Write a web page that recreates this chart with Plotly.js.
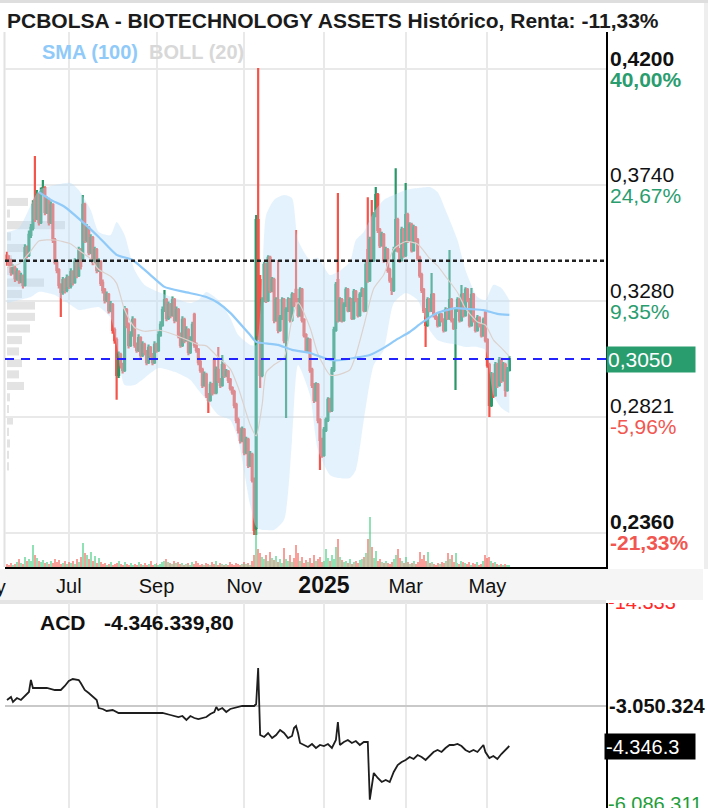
<!DOCTYPE html>
<html><head><meta charset="utf-8">
<script src="https://cdn.plot.ly/plotly-3.0.1.min.js"></script>
<style>html,body{margin:0;padding:0;background:#fff;}#chart{width:708px;height:808px;}</style>
</head><body><div id="chart"></div>
<script>
// ---------------- DATA ----------------
const titleText = 'PCBOLSA - BIOTECHNOLOGY ASSETS Histórico, Renta: -11,33%';
const firstDay = '2024-05-17';
const lastDay = '2025-05-19';
const holidays = ['2024-08-15','2024-11-01','2024-12-06','2024-12-25','2025-01-01','2025-01-06','2025-04-18','2025-04-21','2025-05-01'];

const openP = [
0.3460,0.3440,0.3435,0.3395,0.3411,0.3371,0.3395,0.3363,0.3379,0.3344,
0.3490,0.3463,0.3542,0.3570,0.3681,0.3609,0.3700,0.3593,0.3712,0.3728,
0.3633,0.3681,0.3593,0.3661,0.3522,0.3435,0.3403,0.3344,0.3316,0.3363,
0.3324,0.3371,0.3340,0.3395,0.3355,0.3435,0.3383,0.3482,0.3443,0.3661,
0.3522,0.3570,0.3474,0.3530,0.3435,0.3482,0.3403,0.3435,0.3352,0.3324,
0.3284,0.3304,0.3244,0.3264,0.3165,0.3125,0.2987,0.3066,0.3026,0.3007,
0.3244,0.3185,0.3106,0.3145,0.3205,0.3106,0.3086,0.3133,0.3066,0.3106,
0.3078,0.3038,0.3094,0.3066,0.3038,0.3106,0.3086,0.3145,0.3185,0.3244,
0.3284,0.3213,0.3264,0.3225,0.3284,0.3205,0.3244,0.3145,0.3106,0.3205,
0.3125,0.3165,0.3078,0.3125,0.3225,0.3106,0.3086,0.3038,0.3007,0.2947,
0.2987,0.2907,0.2888,0.2947,0.3046,0.2919,0.3007,0.2967,0.2947,0.3026,
0.2987,0.2999,0.2967,0.2935,0.2919,0.2868,0.2808,0.2769,0.2729,0.2769,
0.2681,0.2729,0.2630,0.2670,0.2570,0.2380,0.3601,0.3363,0.2987,0.3284,
0.3423,0.3284,0.3451,0.3324,0.3363,0.3205,0.3284,0.3165,0.3213,0.3284,
0.3125,0.3244,0.3284,0.3205,0.3304,0.3324,0.3284,0.3225,0.3324,0.3205,
0.3145,0.3086,0.3125,0.3007,0.2947,0.2888,0.2947,0.2808,0.2729,0.2670,
0.2769,0.2808,0.2888,0.2848,0.3007,0.3165,0.3363,0.3205,0.3284,0.3205,
0.3264,0.3324,0.3244,0.3284,0.3213,0.3316,0.3284,0.3225,0.3304,0.3324,
0.3244,0.3482,0.3363,0.3522,0.3443,0.3621,0.3700,0.3562,0.3502,0.3542,
0.3443,0.3482,0.3403,0.3363,0.3324,0.3482,0.3601,0.3482,0.3443,0.3562,
0.3463,0.3621,0.3522,0.3581,0.3482,0.3570,0.3522,0.3451,0.3383,0.3324,
0.3244,0.3185,0.3284,0.3244,0.3304,0.3225,0.3213,0.3185,0.3225,0.3205,
0.3165,0.3244,0.3213,0.3284,0.3205,0.3173,0.3244,0.3284,0.3205,0.3304,
0.3225,0.3324,0.3284,0.3185,0.3304,0.3205,0.3165,0.3213,0.3185,0.3145,
0.3233,0.3125,0.3026,0.2868,0.2987,0.2907,0.3026,0.2947,0.3046,0.2967,
0.3026,0.2927,0.3007];

const highP = [
0.3475,0.3462,0.3448,0.3425,0.3420,0.3410,0.3402,0.3392,0.3385,0.3505,
0.3500,0.3560,0.3585,0.3680,0.3855,0.3720,0.3710,0.3730,0.3760,0.3735,
0.3695,0.3690,0.3675,0.3668,0.3530,0.3445,0.3410,0.3350,0.3375,0.3370,
0.3385,0.3380,0.3410,0.3402,0.3450,0.3442,0.3495,0.3490,0.3700,0.3670,
0.3585,0.3578,0.3545,0.3538,0.3495,0.3490,0.3450,0.3442,0.3365,0.3332,
0.3318,0.3312,0.3280,0.3272,0.3175,0.3135,0.3080,0.3075,0.3035,0.3260,
0.3252,0.3195,0.3160,0.3220,0.3212,0.3115,0.3148,0.3140,0.3120,0.3114,
0.3086,0.3108,0.3102,0.3074,0.3120,0.3114,0.3160,0.3200,0.3258,0.3324,
0.3292,0.3278,0.3272,0.3298,0.3292,0.3258,0.3252,0.3155,0.3220,0.3214,
0.3180,0.3172,0.3140,0.3198,0.3233,0.3115,0.3094,0.3046,0.3015,0.3000,
0.2995,0.2915,0.2960,0.2955,0.3055,0.3020,0.3098,0.2975,0.3066,0.3035,
0.3010,0.3006,0.2975,0.2942,0.2928,0.2876,0.2818,0.2778,0.2782,0.2776,
0.2742,0.2738,0.2685,0.2678,0.2580,0.3621,0.4204,0.3383,0.3295,0.3435,
0.3432,0.3462,0.3460,0.3375,0.3372,0.3295,0.3443,0.3225,0.3295,0.3292,
0.3255,0.3295,0.3292,0.3315,0.3312,0.3562,0.3292,0.3335,0.3332,0.3212,
0.3152,0.3135,0.3132,0.3015,0.2955,0.2958,0.2955,0.2815,0.2738,0.2780,
0.2818,0.2898,0.2896,0.3018,0.3178,0.3355,0.3708,0.3295,0.3292,0.3275,
0.3335,0.3332,0.3295,0.3292,0.3328,0.3324,0.3292,0.3315,0.3335,0.3332,
0.3435,0.3692,0.3535,0.3681,0.3632,0.3732,0.3708,0.3570,0.3555,0.3550,
0.3495,0.3490,0.3412,0.3372,0.3495,0.3807,0.3610,0.3490,0.3575,0.3570,
0.3748,0.3630,0.3592,0.3590,0.3582,0.3578,0.3530,0.3460,0.3392,0.3332,
0.3252,0.3295,0.3292,0.3391,0.3312,0.3232,0.3220,0.3235,0.3232,0.3212,
0.3255,0.3252,0.3482,0.3292,0.3212,0.3255,0.3295,0.3292,0.3344,0.3312,
0.3335,0.3332,0.3292,0.3332,0.3312,0.3212,0.3225,0.3220,0.3192,0.3215,
0.3240,0.3132,0.3035,0.2998,0.2995,0.3038,0.3035,0.3058,0.3055,0.3038,
0.3035,0.3018,0.3062];

const lowP = [
0.3420,0.3418,0.3380,0.3385,0.3355,0.3360,0.3348,0.3350,0.3330,0.3338,
0.3450,0.3455,0.3530,0.3560,0.3593,0.3600,0.3580,0.3585,0.3700,0.3620,
0.3625,0.3580,0.3585,0.3510,0.3425,0.3390,0.3330,0.3217,0.3305,0.3310,
0.3315,0.3328,0.3330,0.3342,0.3348,0.3370,0.3375,0.3405,0.3435,0.3510,
0.3512,0.3462,0.3465,0.3422,0.3428,0.3390,0.3395,0.3340,0.3310,0.3270,
0.3275,0.3230,0.3235,0.3150,0.3110,0.2888,0.2975,0.3012,0.2992,0.2998,
0.3172,0.3092,0.3098,0.3138,0.3095,0.3075,0.3078,0.3055,0.3058,0.3065,
0.3025,0.3030,0.3055,0.3025,0.3030,0.3075,0.3078,0.3138,0.3178,0.3236,
0.3200,0.3205,0.3212,0.3218,0.3192,0.3198,0.3132,0.3095,0.3098,0.3112,
0.3118,0.3065,0.3070,0.3118,0.3095,0.3075,0.3025,0.2995,0.2935,0.2940,
0.2895,0.2836,0.2880,0.2905,0.2910,0.2910,0.2955,0.2935,0.2940,0.2975,
0.2978,0.2955,0.2925,0.2908,0.2855,0.2795,0.2755,0.2715,0.2720,0.2668,
0.2672,0.2618,0.2622,0.2560,0.2352,0.2352,0.3125,0.2935,0.2978,0.3275,
0.3272,0.3276,0.3312,0.3315,0.3192,0.3198,0.3152,0.3158,0.3205,0.3112,
0.2816,0.3236,0.3195,0.3198,0.3255,0.3275,0.3215,0.3218,0.3195,0.3135,
0.3075,0.3078,0.2995,0.2935,0.2875,0.2880,0.2795,0.2610,0.2658,0.2662,
0.2760,0.2800,0.2838,0.2840,0.2998,0.3158,0.3195,0.3198,0.3195,0.3198,
0.3256,0.3235,0.3236,0.3205,0.3206,0.3275,0.3215,0.3218,0.3296,0.3235,
0.3236,0.3352,0.3355,0.3435,0.3435,0.3612,0.3550,0.3490,0.3495,0.3432,
0.3436,0.3392,0.3352,0.3304,0.3316,0.3475,0.3472,0.3432,0.3436,0.3452,
0.3455,0.3510,0.3515,0.3472,0.3475,0.3512,0.3440,0.3372,0.3312,0.3232,
0.3098,0.3178,0.3235,0.3236,0.3215,0.3205,0.3175,0.3178,0.3195,0.3155,
0.3158,0.3205,0.3205,0.3195,0.3165,0.2927,0.3236,0.3195,0.3198,0.3215,
0.3218,0.3275,0.3175,0.3178,0.3195,0.3155,0.3158,0.3175,0.3135,0.3138,
0.3115,0.3015,0.2820,0.2860,0.2895,0.2900,0.2935,0.2940,0.2955,0.2960,
0.2900,0.2920,0.3000];

const closeP = [
0.3440,0.3435,0.3395,0.3411,0.3371,0.3395,0.3363,0.3379,0.3344,0.3490,
0.3463,0.3542,0.3570,0.3661,0.3609,0.3700,0.3593,0.3712,0.3728,0.3633,
0.3681,0.3593,0.3661,0.3522,0.3435,0.3403,0.3344,0.3316,0.3363,0.3324,
0.3371,0.3340,0.3395,0.3355,0.3435,0.3383,0.3482,0.3419,0.3661,0.3522,
0.3570,0.3474,0.3530,0.3435,0.3482,0.3403,0.3435,0.3352,0.3324,0.3284,
0.3304,0.3244,0.3264,0.3165,0.3125,0.2987,0.3066,0.3026,0.3007,0.3244,
0.3185,0.3106,0.3145,0.3205,0.3106,0.3086,0.3133,0.3066,0.3106,0.3078,
0.3038,0.3094,0.3066,0.3038,0.3106,0.3086,0.3145,0.3185,0.3244,0.3284,
0.3213,0.3264,0.3225,0.3284,0.3205,0.3244,0.3145,0.3106,0.3205,0.3125,
0.3165,0.3078,0.3125,0.3185,0.3106,0.3086,0.3038,0.3007,0.2947,0.2987,
0.2907,0.2888,0.2947,0.2919,0.2919,0.3007,0.2967,0.2947,0.3026,0.2987,
0.2999,0.2967,0.2935,0.2919,0.2868,0.2808,0.2769,0.2729,0.2769,0.2681,
0.2729,0.2630,0.2670,0.2570,0.2372,0.3601,0.3145,0.2987,0.3284,0.3423,
0.3284,0.3451,0.3324,0.3363,0.3205,0.3284,0.3165,0.3213,0.3284,0.3125,
0.3244,0.3284,0.3205,0.3304,0.3264,0.3284,0.3225,0.3324,0.3205,0.3145,
0.3086,0.3125,0.3007,0.2947,0.2888,0.2947,0.2808,0.2729,0.2670,0.2769,
0.2808,0.2888,0.2848,0.3007,0.3165,0.3344,0.3205,0.3284,0.3205,0.3264,
0.3324,0.3244,0.3284,0.3213,0.3316,0.3284,0.3225,0.3304,0.3324,0.3244,
0.3423,0.3363,0.3522,0.3443,0.3621,0.3700,0.3562,0.3502,0.3542,0.3443,
0.3482,0.3403,0.3363,0.3324,0.3482,0.3601,0.3482,0.3443,0.3562,0.3463,
0.3621,0.3522,0.3581,0.3482,0.3570,0.3522,0.3451,0.3383,0.3324,0.3244,
0.3185,0.3284,0.3244,0.3304,0.3225,0.3213,0.3185,0.3225,0.3205,0.3165,
0.3244,0.3213,0.3284,0.3205,0.3173,0.3244,0.3284,0.3205,0.3304,0.3225,
0.3324,0.3284,0.3185,0.3304,0.3205,0.3165,0.3213,0.3185,0.3145,0.3205,
0.3125,0.3026,0.2868,0.2987,0.2907,0.3026,0.2947,0.3046,0.2967,0.3026,
0.2927,0.3007,0.3050];

const volume = [
3,2,4,2,3,5,8,4,3,10, 6,8,6,22,12,9,6,5,7,4, 5,3,6,4,8,5,7,3,4,6,
3,5,4,6,3,8,5,10,24,14, 12,8,15,6,11,4,9,5,3,4, 2,3,5,2,3,4,6,3,2,5,
3,2,4,2,3,2,5,3,2,4, 2,3,6,2,3,4,2,3,5,6, 8,5,4,3,6,4,5,3,4,2,
3,4,2,5,3,6,4,2,3,2, 4,3,2,5,3,6,2,4,3,2, 3,2,5,3,2,4,3,2,3,5,
3,4,2,6,12,37,18,14,10,8, 12,6,15,9,7,11,5,8,4,19, 8,6,12,5,9,22,14,6,10,4,
7,5,9,4,12,6,8,10,5,6, 18,9,6,12,8,20,28,10,7,5, 6,4,8,3,5,6,4,7,8,10,
14,28,50,20,9,16,6,8,5,4, 6,4,3,5,8,12,18,9,6,4, 10,5,3,4,6,3,5,15,8,12,
6,15,4,5,3,2,4,3,5,4, 6,14,8,12,5,14,4,3,6,5, 4,3,5,2,4,3,5,2,3,6,
12,9,10,6,4,5,3,2,3,2, 3,2,2];

// SMA (100), sampled by trading-day index
const smaIdx = [16,22,29,38,46,55,63,72,79,89,100,106,112,122,125,132,136,143,152,162,168,174,182,189,195,202,208,216,225,232,239,246,252];
const smaVal = [0.3712,0.3681,0.3653,0.3593,0.3534,0.3463,0.3443,0.3383,0.3336,0.3316,0.3296,0.3272,0.3233,0.3145,0.3118,0.3110,0.3106,0.3086,0.3074,0.3046,0.3046,0.3054,0.3066,0.3094,0.3125,0.3157,0.3193,0.3233,0.3252,0.3248,0.3244,0.3229,0.3225];

// BOLL (20), sampled by trading-day index
const bandIdx = [0,6,12,16,24,32,36,42,46,52,55,59,64,69,76,84,92,96,100,106,112,116,122,125,128,130,134,139,143,146,152,156,162,166,172,175,179,184,189,194,200,206,212,216,220,226,230,236,240,244,248,252];
const bollUpper = [0.3554,0.3570,0.3661,0.3720,0.3740,0.3748,0.3720,0.3641,0.3554,0.3542,0.3593,0.3542,0.3403,0.3344,0.3316,0.3292,0.3272,0.3284,0.3316,0.3284,0.3213,0.3145,0.3106,0.3106,0.3363,0.3621,0.3681,0.3700,0.3688,0.3522,0.3443,0.3451,0.3383,0.3395,0.3435,0.3522,0.3554,0.3633,0.3681,0.3700,0.3720,0.3728,0.3732,0.3712,0.3641,0.3522,0.3403,0.3296,0.3284,0.3344,0.3332,0.3284];
const bollLower = [0.3272,0.3284,0.3296,0.3316,0.3304,0.3264,0.3244,0.3252,0.3256,0.3213,0.3106,0.2947,0.2947,0.2975,0.3014,0.2999,0.2967,0.2927,0.2888,0.2828,0.2808,0.2729,0.2471,0.2384,0.2372,0.2372,0.2372,0.2412,0.2729,0.3026,0.2907,0.2689,0.2590,0.2578,0.2578,0.2610,0.2808,0.3026,0.3086,0.3272,0.3312,0.3284,0.3165,0.3125,0.3114,0.3106,0.3098,0.3098,0.3086,0.2907,0.2856,0.2836];
const bollMid = [0.3413,0.3427,0.3479,0.3518,0.3522,0.3506,0.3482,0.3447,0.3405,0.3378,0.3350,0.3245,0.3175,0.3160,0.3165,0.3146,0.3120,0.3106,0.3102,0.3056,0.3011,0.2937,0.2789,0.2745,0.2868,0.2997,0.3027,0.3056,0.3209,0.3274,0.3175,0.3070,0.2987,0.2987,0.3007,0.3066,0.3181,0.3330,0.3384,0.3486,0.3516,0.3506,0.3449,0.3419,0.3378,0.3314,0.3251,0.3197,0.3185,0.3126,0.3094,0.3060];

// Volume profile (price level -> relative volume)
const profPrice = [0.3673,0.3627,0.3581,0.3536,0.3490,0.3445,0.3399,0.3353,0.3308,0.3262,0.3217,0.3171,0.3125,0.3080,0.3034,0.2989,0.2943,0.2898,0.2852,0.2806,0.2761,0.2715,0.2670,0.2624];
const profVol = [21,3,58,4,17,5,4,37,15,28,28,23,15,12,15,12,17,3,2,6,2,3,2,2];

// ACD, sampled by trading-day index
const acdIdx = [0,2,3,5,7,9,11,12,13,16,20,24,27,29,31,33,36,37,39,41,43,45,46,48,50,53,56,60,66,72,78,82,86,88,90,92,94,96,98,100,102,104,105,106,108,110,112,114,116,118,120,122,124,125,126,127,129,131,133,135,137,139,141,143,144,145,146,147,149,151,153,155,157,159,161,163,165,166,167,169,171,173,175,177,179,181,182,183,184,186,188,190,192,194,196,198,200,202,204,206,208,210,212,214,216,218,220,222,224,226,228,230,232,234,236,238,239,240,242,244,246,248,250,252];
const acdVal = [-2855900,-2758700,-2920700,-2791100,-2855900,-2726300,-2596700,-2207900,-2467100,-2467100,
-2467100,-2531900,-2531900,-2402300,-2240300,-2175500,-2207900,-2305100,-2531900,-2629100,
-2758700,-2855900,-3115100,-3147500,-3212300,-3179900,-3277100,-3277100,-3277100,-3277100,
-3277100,-3341900,-3406700,-3374300,-3503900,-3374300,-3439100,-3471500,-3439100,-3406700,
-3309500,-3244700,-3082700,-3179900,-3115100,-3244700,-3147500,-3115100,-3082700,-3050300,
-3050300,-3050300,-3050300,-2985500,-1819100,-3989900,-4054700,-3925100,-4087100,-3989900,
-3827900,-3925100,-4087100,-4022300,-3763100,-3698300,-3925100,-4249100,-4313900,-4378700,
-4281500,-4411100,-4313900,-4346300,-4281500,-4411100,-4151900,-3568700,-4313900,-4216700,
-4151900,-4249100,-4184300,-4313900,-4216700,-4216700,-6086311,-5609900,-5221100,-5383100,
-5512700,-5447900,-5512700,-5188700,-4961900,-4864700,-4799900,-4702700,-4767500,-4637900,
-4702700,-4799900,-4670300,-4540700,-4475900,-4540700,-4411100,-4313900,-4313900,-4281500,
-4346300,-4475900,-4540700,-4475900,-4540700,-4411100,-4313900,-4540700,-4735100,-4670300,
-4767500,-4605500,-4475900,-4346340];
const acdLegend = '-4.346.339,80';
const acdRef = -3050324;
const acdRefText = '-3.050.324';
const acdLastText = '-4.346.3';
const acdTopText = '-14.333';
const acdBottomText = '-6.086.311';

// Axis ticks / labels
const priceTicks = [0.42, 0.374, 0.328, 0.2821, 0.236];
const priceText = ['0,4200','0,3740','0,3280','0,2821','0,2360'];
const pctText = ['40,00%','24,67%','9,35%','-5,96%','-21,33%'];
const monthTicks = ['2024-07-01','2024-09-02','2024-11-04','2025-01-02','2025-03-03','2025-05-02'];
const monthText = ['Jul','Sep','Nov','<b><span style="font-size:23px">2025</span></b>','Mar','May'];

// ---------------- BUILD ----------------
function tradingDays(s, e, hol) {
  const out = [];
  const d = new Date(s + 'T00:00:00Z');
  const end = new Date(e + 'T00:00:00Z');
  while (d <= end) {
    const w = d.getUTCDay();
    const iso = d.toISOString().slice(0, 10);
    if (w !== 0 && w !== 6 && hol.indexOf(iso) < 0) out.push(iso);
    d.setUTCDate(d.getUTCDate() + 1);
  }
  return out;
}
const dates = tradingDays(firstDay, lastDay, holidays);
const n = Math.min(dates.length, closeP.length);
const D = dates.slice(0, n);

const W = 708, H = 808;
const px = v => v / W;
const py = v => 1 - v / H;
const plotL = 5, plotR = 606, plotT = 32, plotB = 567, acdT = 603;
const xDom = [px(plotL), px(plotR)];
const FONT = 'Liberation Sans, Arial, Helvetica, sans-serif';
const UP = '#279867', DN = '#f5544a';
const GREEN_TXT = '#2a9d6f', RED_TXT = '#f25650';
const rbreaks = [{bounds: ['sat', 'mon']}, {values: holidays}];

const traces = [];
// Bollinger band
traces.push({type:'scatter', mode:'lines', x: bandIdx.map(i => D[i]), y: bollUpper,
  line:{width:0, shape:'spline', smoothing:0.6, color:'rgba(0,0,0,0)'}, hoverinfo:'skip', xaxis:'x', yaxis:'y'});
traces.push({type:'scatter', mode:'lines', x: bandIdx.map(i => D[i]), y: bollLower,
  line:{width:0, shape:'spline', smoothing:0.6, color:'rgba(0,0,0,0)'}, fill:'tonexty',
  fillcolor:'rgba(187,222,251,0.40)', hoverinfo:'skip', xaxis:'x', yaxis:'y'});
traces.push({type:'scatter', mode:'lines', x: bandIdx.map(i => D[i]), y: bollMid,
  line:{width:1.2, color:'#dcd2cd', shape:'spline', smoothing:0.6}, hoverinfo:'skip', xaxis:'x', yaxis:'y'});
// Candles
traces.push({type:'candlestick', x: D, open: openP.slice(0,n), high: highP.slice(0,n), low: lowP.slice(0,n), close: closeP.slice(0,n),
  increasing:{line:{color:UP, width:2.2}, fillcolor:UP}, decreasing:{line:{color:DN, width:2.2}, fillcolor:DN},
  whiskerwidth:0, hoverinfo:'skip', xaxis:'x', yaxis:'y'});
// SMA 100
traces.push({type:'scatter', mode:'lines', x: smaIdx.map(i => D[i]), y: smaVal,
  line:{width:2.2, color:'#90caf9', shape:'spline', smoothing:0.5}, hoverinfo:'skip', xaxis:'x', yaxis:'y'});
// Volume
const volColors = D.map((d, i) => closeP[i] >= openP[i] ? 'rgba(70,205,130,0.6)' : 'rgba(245,95,85,0.6)');
traces.push({type:'bar', x: D, y: volume.slice(0,n), marker:{color: volColors, line:{width:0}},
  hoverinfo:'skip', xaxis:'x', yaxis:'y3'});
// ACD
traces.push({type:'scatter', mode:'lines', x: acdIdx.map(i => D[i]), y: acdVal,
  line:{width:1.8, color:'#1e1e1e'}, hoverinfo:'skip', xaxis:'x2', yaxis:'y2'});
// clipped ACD extreme labels (partly hidden at the panel edges, as in the source)
traces.push({type:'scatter', mode:'text', x:[0.02, 0.02], y:[204, 2], text:[acdTopText, acdBottomText],
  textposition:'middle right', textfont:{size:20, family:FONT, color:['#ff2a2a', '#1f9e3a']},
  cliponaxis:true, hoverinfo:'skip', xaxis:'x4', yaxis:'y4'});

const shapes = [];
// label band + frame
shapes.push({type:'rect', xref:'paper', yref:'paper', x0:0, x1:px(703), y0:py(600), y1:py(569), fillcolor:'#f5f5f5', line:{width:0}, layer:'below'});
shapes.push({type:'rect', xref:'paper', yref:'paper', x0:0, x1:px(606), y0:py(604), y1:py(600), fillcolor:'#e4e4e4', line:{width:0}, layer:'below'});
shapes.push({type:'rect', xref:'paper', yref:'paper', x0:0, x1:1, y0:py(3), y1:1, fillcolor:'#dedede', line:{width:0}, layer:'below'});
shapes.push({type:'rect', xref:'paper', yref:'paper', x0:px(3.5), x1:px(5.5), y0:py(567), y1:py(32), fillcolor:'#e2e2e2', line:{width:0}, layer:'below'});
shapes.push({type:'rect', xref:'paper', yref:'paper', x0:px(704), x1:1, y0:py(569), y1:py(3), fillcolor:'#eeeeee', line:{width:0}, layer:'below'});
// volume profile
const plotW = plotR - plotL;
profPrice.forEach((p, i) => {
  shapes.push({type:'rect', xref:'x domain', yref:'y', x0: 2 / plotW, x1: (2 + profVol[i]) / plotW,
    y0: p - 0.0016, y1: p + 0.0016, fillcolor:'#e3e3e3', line:{width:0}, layer:'below'});
});
// reference lines: starting price (dotted) and last price (dashed)
shapes.push({type:'line', xref:'x domain', yref:'y', x0:0, x1:1, y0:closeP[0], y1:closeP[0],
  line:{color:'#222', width:2.5, dash:'4px,3px'}, layer:'above'});
shapes.push({type:'line', xref:'x domain', yref:'y', x0:0, x1:1, y0:closeP[n-1], y1:closeP[n-1],
  line:{color:'#2323ff', width:2, dash:'9px,7px'}, layer:'above'});

const fmt4 = v => v.toFixed(4).replace('.', ',');
const ann = [];
ann.push({xref:'paper', yref:'paper', x:px(5), y:py(20), xanchor:'left', yanchor:'middle', showarrow:false,
  text:'<b>' + titleText + '</b>', font:{size:21, color:'#1b1b1b', family:FONT}});
ann.push({xref:'paper', yref:'paper', x:px(40), y:py(52), xanchor:'left', yanchor:'middle', showarrow:false,
  text:'<b>SMA (100)</b>', font:{size:20, color:'#90caf9', family:FONT}});
ann.push({xref:'paper', yref:'paper', x:px(147), y:py(52), xanchor:'left', yanchor:'middle', showarrow:false,
  text:'<b>BOLL (20)</b>', font:{size:20, color:'#d8d8d8', family:FONT}});
priceTicks.forEach((t, i) => {
  const bold = (i === 0 || i === priceTicks.length - 1);
  const b = s => bold ? '<b>' + s + '</b>' : s;
  ann.push({xref:'paper', yref:'y', x:px(608), y:t, yshift:11, xanchor:'left', yanchor:'middle', showarrow:false,
    text:b(priceText[i]), font:{size:21, color:'#111', family:FONT}});
  ann.push({xref:'paper', yref:'y', x:px(608), y:t, yshift:-10, xanchor:'left', yanchor:'middle', showarrow:false,
    text:b(pctText[i]), font:{size:21, color: pctText[i].charAt(0) === '-' ? RED_TXT : GREEN_TXT, family:FONT}});
});
ann.push({xref:'paper', yref:'y', x:px(606), y:closeP[n-1], xanchor:'left', yanchor:'middle', showarrow:false,
  text:fmt4(closeP[n-1]), bgcolor:'#2a9d6f', width:86, height:23, align:'left', borderpad:1,
  font:{size:21, color:'#fff', family:FONT}});
// partly visible tick label of May 2024 at the left edge, as in the source
ann.push({xref:'paper', yref:'paper', x:px(8), y:py(587), xanchor:'right', yanchor:'middle', showarrow:false,
  text:'May', font:{size:20, color:'#111', family:FONT}});
// ACD texts
ann.push({xref:'paper', yref:'paper', x:px(38), y:py(622), xanchor:'left', yanchor:'middle', showarrow:false,
  text:'<b>ACD</b>', font:{size:21, color:'#111', family:FONT}});
ann.push({xref:'paper', yref:'paper', x:px(102), y:py(622), xanchor:'left', yanchor:'middle', showarrow:false,
  text:'<b>' + acdLegend + '</b>', font:{size:21, color:'#111', family:FONT}});
ann.push({xref:'paper', yref:'y2', x:px(607), y:acdRef, xanchor:'left', yanchor:'middle', showarrow:false,
  text:'<b>' + acdRefText + '</b>', font:{size:20, color:'#111', family:FONT}});
ann.push({xref:'paper', yref:'y2', x:px(604), y:acdVal[acdVal.length-1], xanchor:'left', yanchor:'middle', showarrow:false,
  text:acdLastText, bgcolor:'#000', width:88, height:23, align:'left', borderpad:1,
  font:{size:20, color:'#fff', family:FONT}});

const layout = {
  width:W, height:H, margin:{l:0, r:0, t:0, b:0, pad:0},
  paper_bgcolor:'#ffffff', plot_bgcolor:'rgba(0,0,0,0)', showlegend:false, hovermode:false,
  font:{family:FONT, color:'#111'}, bargap:0,
  xaxis:{domain:xDom, anchor:'y', type:'date', range:['2024-05-16', '2025-07-24 12:00'], rangebreaks:rbreaks,
    rangeslider:{visible:false}, tickmode:'array', tickvals:monthTicks, ticktext:monthText,
    showgrid:true, gridcolor:'#e9e9e9', gridwidth:2, showline:true, linecolor:'#000', linewidth:2,
    ticks:'', tickfont:{size:20, color:'#111', family:FONT}, ticklabelstandoff:0, zeroline:false},
  yaxis:{domain:[py(plotB), py(plotT)], anchor:'x', side:'right', range:[0.2225, 0.4347],
    tickmode:'array', tickvals:priceTicks, showticklabels:false, showgrid:true, gridcolor:'#e9e9e9', gridwidth:2,
    showline:true, linecolor:'#000', linewidth:2, zeroline:false, ticks:''},
  yaxis3:{overlaying:'y', anchor:'x', range:[0, plotB - plotT], visible:false, showgrid:false, zeroline:false},
  xaxis2:{domain:xDom, anchor:'y2', type:'date', matches:'x', rangebreaks:rbreaks, tickmode:'array', tickvals:monthTicks,
    showticklabels:false, showgrid:true, gridcolor:'#e9e9e9', gridwidth:2, showline:false, ticks:'', zeroline:false},
  yaxis2:{domain:[0, py(acdT)], anchor:'x2', side:'right', range:[-6355000, 287000], tickmode:'array', tickvals:[acdRef],
    showticklabels:false, showgrid:true, gridcolor:'#c9c9c9', gridwidth:2, showline:true, linecolor:'#000', linewidth:2,
    zeroline:false, ticks:''},
  xaxis4:{domain:[px(plotR), 1], anchor:'y4', range:[0, 1], visible:false},
  yaxis4:{domain:[0, py(acdT)], anchor:'x4', range:[0, H - acdT], visible:false},
  shapes:shapes, annotations:ann
};

Plotly.newPlot('chart', traces, layout, {staticPlot:true, displayModeBar:false});
</script>
</body></html>
